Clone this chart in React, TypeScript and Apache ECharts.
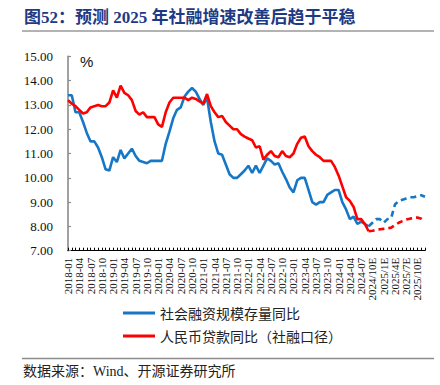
import React, { useEffect, useRef } from "react";
import * as echarts from "echarts";

const categories: string[] = [
  "2018-01","2018-02","2018-03","2018-04","2018-05","2018-06","2018-07","2018-08","2018-09","2018-10","2018-11","2018-12",
  "2019-01","2019-02","2019-03","2019-04","2019-05","2019-06","2019-07","2019-08","2019-09","2019-10","2019-11","2019-12",
  "2020-01","2020-02","2020-03","2020-04","2020-05","2020-06","2020-07","2020-08","2020-09","2020-10","2020-11","2020-12",
  "2021-01","2021-02","2021-03","2021-04","2021-05","2021-06","2021-07","2021-08","2021-09","2021-10","2021-11","2021-12",
  "2022-01","2022-02","2022-03","2022-04","2022-05","2022-06","2022-07","2022-08","2022-09","2022-10","2022-11","2022-12",
  "2023-01","2023-02","2023-03","2023-04","2023-05","2023-06","2023-07","2023-08","2023-09","2023-10","2023-11","2023-12",
  "2024-01","2024-02","2024-03","2024-04","2024-05","2024-06","2024-07","2024-08","2024-09",
  "2024/10E","2024/11E","2024/12E",
  "2025/1E","2025/2E","2025/3E","2025/4E","2025/5E","2025/6E","2025/7E","2025/8E","2025/9E","2025/10E","2025/11E","2025/12E",
];

// 社会融资规模存量同比 (actual, 2018-01 .. 2024-09)
const tsfActual: number[] = [
  13.4, 13.4, 12.7, 12.7, 12.3, 11.85, 11.5, 11.5, 11.25, 10.85, 10.35, 10.3,
  10.85, 10.65, 11.15, 10.8, 11.0, 11.2, 10.9, 10.7, 10.65, 10.6, 10.7, 10.7,
  10.7, 10.7, 11.4, 11.9, 12.45, 12.8, 12.9, 13.35, 13.55, 13.7, 13.55, 13.25,
  13.0, 13.3, 12.3, 11.5, 11.0, 10.95, 10.55, 10.15, 10.0, 10.0, 10.15, 10.3,
  10.5, 10.2, 10.5, 10.2, 10.5, 10.8, 10.7, 10.55, 10.6, 10.25, 9.95, 9.6,
  9.4, 9.9, 10.0, 10.0, 9.5, 9.0, 8.9, 9.0, 9.0, 9.3, 9.4, 9.5,
  9.5, 9.0, 8.7, 8.3, 8.4, 8.1, 8.2, 8.1, 8.0,
];
// 社会融资规模存量同比 (forecast, 2024/10E .. 2025/12E)
const tsfForecast: number[] = [
  8.15, 8.3, 8.3, 8.15, 8.3, 8.35, 8.9, 9.05, 9.1, 9.15, 9.2, 9.2, 9.25, 9.28, 9.22,
];

// 人民币贷款同比（社融口径） (actual)
const loanActual: number[] = [
  13.2, 13.05, 12.95, 12.8, 12.65, 12.7, 12.9, 12.95, 13.0, 12.95, 12.95, 13.1,
  13.6, 13.3, 13.8, 13.5, 13.4, 13.2, 12.75, 12.6, 12.7, 12.5, 12.5, 12.5,
  12.2, 12.1, 12.7, 13.1, 13.3, 13.3, 13.3, 13.3, 13.2, 13.3, 13.25, 13.15,
  13.05, 13.45, 12.95, 12.7, 12.5, 12.55, 12.3, 12.15, 12.0, 12.0, 11.8, 11.7,
  11.62, 11.55, 11.25, 11.3, 10.75, 10.95, 11.1, 10.9, 10.85, 11.1, 10.9, 10.85,
  11.0, 11.4, 11.65, 11.7, 11.3, 11.1, 10.95, 10.85, 10.7, 10.7, 10.7, 10.45,
  10.1, 9.65, 9.2, 9.05, 8.8, 8.3, 8.3, 8.1, 7.8,
];
// 人民币贷款同比（社融口径） (forecast)
const loanForecast: number[] = [
  7.82, 7.85, 7.88, 7.9, 7.92, 7.95, 8.05, 8.15, 8.22, 8.28, 8.32, 8.35, 8.37, 8.32, 8.22,
];

const yTicks: number[] = [7, 8, 9, 10, 11, 12, 13, 14, 15];

const seriesNames = ["社会融资规模存量同比", "人民币贷款同比（社融口径）"];
const titleText = "图52：预测 2025 年社融增速改善后趋于平稳";
const sourceText = "数据来源：Wind、开源证券研究所";

const BLUE = "#1677C6";
const RED = "#FF0000";

function solid(actual: number[], forecast: number[]) {
  return [...actual, ...forecast.map(() => null)];
}
function dashed(actual: number[], forecast: number[]) {
  return [...actual.map((v, i) => (i === actual.length - 1 ? v : null)), ...forecast];
}

export default function App() {
  const ref = useRef<HTMLDivElement>(null);
  useEffect(() => {
    if (!ref.current) return;
    const chart = echarts.init(ref.current, undefined, { renderer: "svg" });
    const lineCommon = {
      type: "line" as const,
      showSymbol: false,
      symbol: "none",
      connectNulls: false,
    };
    chart.setOption({
      animation: false,
      backgroundColor: "#fff",
      grid: { left: 68, right: 15, top: 56.4, bottom: 134.3, containLabel: false },
      legend: {
        data: seriesNames,
        orient: "vertical",
        left: 118,
        top: 301,
        itemWidth: 32,
        itemHeight: 3,
        itemGap: 9,
        icon: "rect",
        textStyle: { fontSize: 14, fontFamily: "Noto Sans CJK SC", color: "#222" },
      },
      xAxis: {
        type: "category",
        boundaryGap: false,
        data: categories,
        axisLine: { lineStyle: { color: "#000", width: 1 } },
        axisTick: { show: true, inside: true, length: 3, interval: 0, lineStyle: { color: "#000" } },
        axisLabel: {
          interval: 2,
          rotate: 90,
          fontFamily: "Liberation Serif",
          fontSize: 11,
          color: "#111",
          margin: 7,
        },
        splitLine: { show: false },
      },
      yAxis: {
        type: "value",
        min: yTicks[0],
        max: yTicks[yTicks.length - 1],
        interval: 1,
        axisLine: { show: true, lineStyle: { color: "#8a8a8a", width: 1.6 } },
        axisTick: { show: true, inside: true, length: 3, lineStyle: { color: "#8a8a8a", width: 1.2 } },
        axisLabel: {
          formatter: (v: number) => v.toFixed(2),
          fontFamily: "Liberation Serif",
          fontSize: 13,
          color: "#111",
          margin: 15,
        },
        splitLine: { show: false },
      },
      series: [
        {
          ...lineCommon,
          name: seriesNames[0],
          data: solid(tsfActual, tsfForecast),
          lineStyle: { color: BLUE, width: 2.6 },
          itemStyle: { color: BLUE },
        },
        {
          ...lineCommon,
          name: seriesNames[1],
          data: solid(loanActual, loanForecast),
          lineStyle: { color: RED, width: 2.6 },
          itemStyle: { color: RED },
        },
        {
          ...lineCommon,
          name: seriesNames[0] + "E",
          data: dashed(tsfActual, tsfForecast),
          lineStyle: { color: BLUE, width: 2.6, type: [6, 4] },
          itemStyle: { color: BLUE },
        },
        {
          ...lineCommon,
          name: seriesNames[1] + "E",
          data: dashed(loanActual, loanForecast),
          lineStyle: { color: RED, width: 2.6, type: [6, 4] },
          itemStyle: { color: RED },
        },
      ],
      graphic: [
        {
          type: "text",
          x: 24,
          y: 9,
          style: {
            text: titleText,
            font: "bold 17px 'Liberation Serif', 'Noto Sans CJK SC'",
            fill: "#1E3A84",
          },
        },
        {
          type: "line",
          shape: { x1: 22, y1: 31, x2: 434, y2: 31 },
          style: { stroke: "#666", lineWidth: 1 },
        },
        {
          type: "text",
          x: 80,
          y: 54,
          style: { text: "%", font: "15px 'Liberation Sans'", fill: "#111" },
        },
        {
          type: "line",
          shape: { x1: 22, y1: 358.5, x2: 434, y2: 358.5 },
          style: { stroke: "#8c8c8c", lineWidth: 1.6 },
        },
        {
          type: "text",
          x: 23,
          y: 364,
          style: {
            text: sourceText,
            font: "14px 'Liberation Serif', 'Noto Sans CJK SC'",
            fill: "#222",
          },
        },
      ],
    });
    return () => chart.dispose();
  }, []);
  return (
    <div
      ref={ref}
      style={{ position: "fixed", left: 0, top: 0, width: 440, height: 385, background: "#fff" }}
    />
  );
}
